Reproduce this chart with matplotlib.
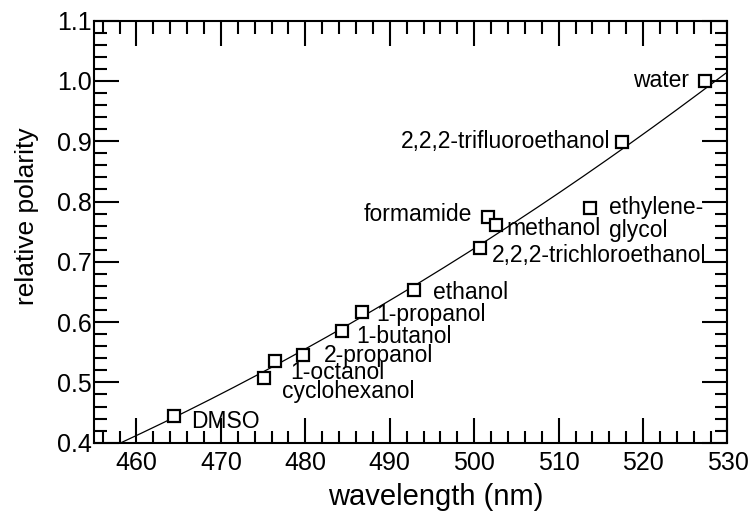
import numpy as np
import matplotlib
matplotlib.use("Agg")
import matplotlib.pyplot as plt
from matplotlib.ticker import MultipleLocator, FormatStrFormatter

plt.rcParams['font.family'] = ['Liberation Sans', 'DejaVu Sans']

solvents = ["DMSO", "1-octanol", "cyclohexanol", "2-propanol", "1-butanol", "1-propanol",
            "ethanol", "2,2,2-trichloroethanol", "formamide", "methanol", "ethylene-\nglycol",
            "2,2,2-trifluoroethanol", "water"]
wavelength = [464.4, 475.1, 476.4, 479.7, 484.3, 486.7, 492.9, 500.65, 501.6, 502.6, 513.7, 517.5, 527.3]
polarity = [0.444, 0.508, 0.536, 0.545, 0.585, 0.616, 0.653, 0.723, 0.774, 0.761, 0.789, 0.898, 1.0]

# label anchor positions (data coords) and alignment
label_x = [466.5, 478.2, 477.2, 482.2, 486.0, 488.4, 495.1, 502.1, 499.7, 503.8, 516.0, 491.3, 525.5]
label_y = [0.435, 0.516, 0.485, 0.545, 0.576, 0.612, 0.649, 0.710, 0.779, 0.756, 0.771, 0.899, 1.0]
label_ha = ["left"] * 8 + ["right", "left", "left", "left", "right"]

fig = plt.figure(figsize=(7.56, 5.12), dpi=100)
ax = fig.add_axes([0.1247, 0.1354, 0.8376, 0.8242])

coef = np.polyfit(wavelength, polarity, 2)
xs = np.linspace(455, 530, 300)
ax.plot(xs, np.polyval(coef, xs), color='black', lw=0.9, zorder=2)

ax.plot(wavelength, polarity, linestyle='none', marker='s', markersize=8.5,
        markerfacecolor='white', markeredgecolor='black', markeredgewidth=1.6, zorder=3)

for name, lx, ly, ha in zip(solvents, label_x, label_y, label_ha):
    ax.text(lx, ly, name, ha=ha, va='center', fontsize=16.5, linespacing=1.0, zorder=4)

ax.set_xlim(455, 530)
ax.set_ylim(0.4, 1.1)
ax.xaxis.set_major_locator(MultipleLocator(10))
ax.xaxis.set_minor_locator(MultipleLocator(2))
ax.yaxis.set_major_locator(MultipleLocator(0.1))
ax.yaxis.set_minor_locator(MultipleLocator(0.02))
ax.yaxis.set_major_formatter(FormatStrFormatter('%.1f'))
ax.tick_params(which='both', direction='in', top=True, right=True, width=1.5, labelsize=18)
ax.tick_params(axis='x', which='major', pad=6)
ax.tick_params(axis='y', which='major', pad=2)
ax.tick_params(which='major', length=18)
ax.tick_params(which='minor', length=9)
for s in ax.spines.values():
    s.set_linewidth(1.5)

ax.set_xlabel("wavelength (nm)", fontsize=21)
ax.set_ylabel("relative polarity", fontsize=19)
ax.xaxis.set_label_coords(0.54, -0.095)
ax.yaxis.set_label_coords(-0.088, 0.537)

fig.savefig("out.png", dpi=100)
